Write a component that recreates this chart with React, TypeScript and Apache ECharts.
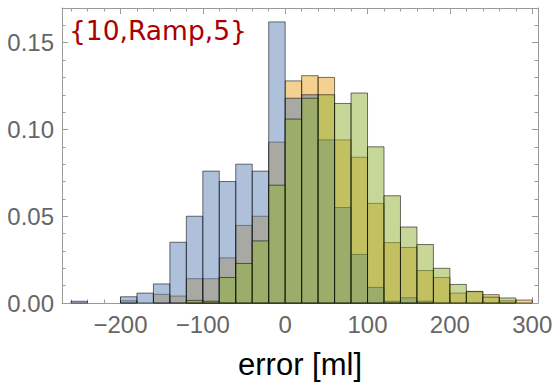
import React, { useEffect, useRef } from "react";
import * as echarts from "echarts";

const binStarts = [-260, -240, -220, -200, -180, -160, -140, -120, -100, -80, -60, -40, -20, 0, 20, 40, 60, 80, 100, 120, 140, 160, 180, 200, 220, 240, 260, 280];
const binWidth = 20;

const blueValues = [0.001, 0, 0, 0.0036, 0.0057, 0.011, 0.035, 0.05, 0.076, 0.07, 0.08, 0.076, 0.162, 0.118, 0.12, 0.094, 0.055, 0.028, 0.009, 0.001, 0.003, 0.001, 0, 0, 0, 0, 0, 0];
const orangeValues = [0, 0, 0, 0.0013, 0, 0.005, 0.004, 0.014, 0.014, 0.026, 0.0447, 0.05, 0.0927, 0.128, 0.131, 0.13, 0.094, 0.084, 0.0574, 0.0348, 0.032, 0.0187, 0.0147, 0.0057, 0.0065, 0.0048, 0.0013, 0.0017];
const greenValues = [0, 0, 0, 0, 0, 0, 0, 0.0015, 0.001, 0.0147, 0.0228, 0.0358, 0.0679, 0.106, 0.118, 0.12, 0.115, 0.121, 0.09, 0.0618, 0.0438, 0.0337, 0.02, 0.0107, 0.0067, 0.0034, 0.0029, 0];

const xMajorTicks = [-200, -100, 0, 100, 200, 300];
const xMinorTicks = [-260, -240, -220, -200, -180, -160, -140, -120, -100, -80, -60, -40, -20, 0, 20, 40, 60, 80, 100, 120, 140, 160, 180, 200, 220, 240, 260, 280, 300];
const yMajorTicks = [0, 0.05, 0.1, 0.15];
const yMinorTicks = [0, 0.01, 0.02, 0.03, 0.04, 0.05, 0.06, 0.07, 0.08, 0.09, 0.1, 0.11, 0.12, 0.13, 0.14, 0.15, 0.16, 0.17];

const annotation = "{10,Ramp,5}";
const xTitle = "error [ml]";

const FRAME = "#9a9a9a";
const LABEL = "#666666";

function makeSeries(name: string, values: number[], fill: string) {
  return {
    type: "custom",
    name,
    xAxisIndex: 0,
    yAxisIndex: 0,
    encode: { x: [0, 1], y: 2 },
    data: binStarts.map((b, i) => [b, b + binWidth, values[i]]),
    renderItem: (params: any, api: any) => {
      const x0 = api.value(0);
      const x1 = api.value(1);
      const y = api.value(2);
      if (!y) return null;
      const p0 = api.coord([x0, y]);
      const p1 = api.coord([x1, 0]);
      return {
        type: "rect",
        shape: { x: p0[0], y: p0[1], width: p1[0] - p0[0], height: p1[1] - p0[1] },
        style: { fill, stroke: "rgba(0,0,0,0.55)", lineWidth: 1 },
      };
    },
  };
}

function xAxisDef(position: "top" | "bottom", ticks: number[], len: number, labels: boolean, line: boolean, extra: any = {}) {
  return {
    type: "value",
    position,
    min: -271,
    max: 307,
    splitLine: { show: false },
    axisLine: { show: line, onZero: false, lineStyle: { color: FRAME, width: 1 } },
    axisTick: { show: true, inside: true, length: len, customValues: ticks, lineStyle: { color: FRAME, width: 1 } },
    axisLabel: labels
      ? {
          show: true,
          customValues: xMajorTicks,
          margin: 9,
          color: LABEL,
          fontSize: 24,
          fontFamily: "Liberation Sans",
          formatter: (v: number) => (v < 0 ? "\u2212" + Math.abs(v) : String(v)),
        }
      : { show: false },
    ...extra,
  };
}

function yAxisDef(position: "left" | "right", ticks: number[], len: number, labels: boolean, line: boolean) {
  return {
    type: "value",
    position,
    min: 0,
    max: 0.17,
    splitLine: { show: false },
    axisLine: { show: line, onZero: false, lineStyle: { color: FRAME, width: 1 } },
    axisTick: { show: true, inside: true, length: len, customValues: ticks, lineStyle: { color: FRAME, width: 1 } },
    axisLabel: labels
      ? {
          show: true,
          customValues: yMajorTicks,
          margin: 8,
          color: LABEL,
          fontSize: 24,
          fontFamily: "Liberation Sans",
          formatter: (v: number) => v.toFixed(2),
        }
      : { show: false },
  };
}

export default function App() {
  const ref = useRef<HTMLDivElement>(null);
  useEffect(() => {
    if (!ref.current) return;
    const chart = echarts.init(ref.current, null, { renderer: "svg" });
    chart.setOption({
      animation: false,
      backgroundColor: "#ffffff",
      grid: { left: 62, right: 18, top: 8, bottom: 80 },
      xAxis: [
        xAxisDef("bottom", xMajorTicks, 6, true, true, {
          name: xTitle,
          nameLocation: "middle",
          nameGap: 46,
          nameTextStyle: { color: "#000", fontSize: 31, fontFamily: "Liberation Sans" },
        }),
        xAxisDef("bottom", xMinorTicks, 3.5, false, false),
        xAxisDef("top", xMajorTicks, 6, false, true),
        xAxisDef("top", xMinorTicks, 3.5, false, false),
      ],
      yAxis: [
        yAxisDef("left", yMajorTicks, 6, true, true),
        yAxisDef("left", yMinorTicks, 3.5, false, false),
        yAxisDef("right", yMajorTicks, 6, false, true),
        yAxisDef("right", yMinorTicks, 3.5, false, false),
      ],
      series: [
        makeSeries("orange", orangeValues, "rgba(236,163,36,0.5)"),
        makeSeries("blue", blueValues, "rgba(94,129,181,0.5)"),
        makeSeries("green", greenValues, "rgba(143,176,50,0.5)"),
      ],
      graphic: [
        {
          type: "text",
          left: 69,
          top: 17,
          style: {
            text: annotation,
            fill: "#aa0000",
            fontSize: 26.5,
            fontFamily: "DejaVu Sans",
          },
        },
      ],
    });
    return () => chart.dispose();
  }, []);
  return <div ref={ref} style={{ position: "absolute", left: 0, top: 0, width: 556, height: 385 }} />;
}
